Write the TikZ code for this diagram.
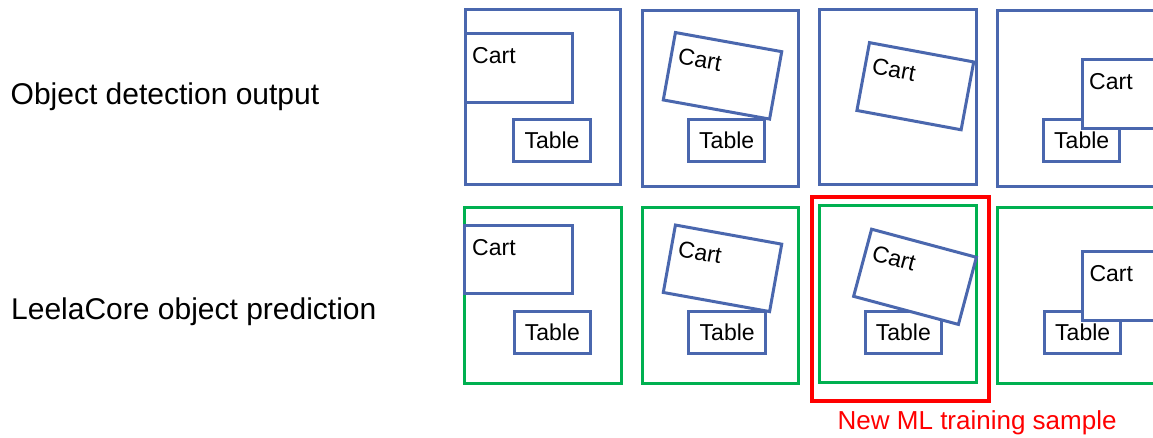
\documentclass[tikz,border=0pt]{standalone}
\usepackage{fontspec}
\setmainfont{Liberation Sans}
\definecolor{boxblue}{HTML}{4A67AE}
\definecolor{predgreen}{HTML}{00B050}
\definecolor{alertred}{HTML}{FF0000}
\newcommand\rowtxt{\fontsize{30}{35}\selectfont}
\newcommand\objtxt{\fontsize{23}{27}\selectfont}
\newcommand\notetxt{\fontsize{26}{31}\selectfont}
\tikzset{
  panelbox/.style={draw=#1, line width=3pt, inner sep=0pt, outer sep=0pt,
    minimum width=156, minimum height=176},
  objbox/.style={draw=boxblue, fill=white, line width=3pt, inner sep=0pt, outer sep=0pt},
  cartbox/.style={objbox, minimum width=108, minimum height=68.5},
  tablebox/.style={objbox, minimum width=76.5, minimum height=42, font=\objtxt},
  objlabel/.style={font=\objtxt, inner sep=0pt, anchor=base west},
  rowlabel/.style={font=\rowtxt, inner sep=0pt, anchor=base west},
}
\begin{document}
\begin{tikzpicture}[x=1pt,y=-1pt]
\clip (0,0) rectangle (1153,437);
\fill[white] (0,0) rectangle (1153,437);

% row captions
\node[rowlabel] (capdet) at (10.5,104) {Object detection output};
\node[rowlabel] (cappred) at (11,319.3) {LeelaCore object prediction};

% ---------- top row: detector frames ----------
\node[panelbox=boxblue, minimum width=155, minimum height=175] (d1) at (542.5,96.5) {};
\node[panelbox=boxblue] (d2) at (720,98) {};
\node[panelbox=boxblue, minimum width=157, minimum height=175] (d3) at (897.5,96.5) {};
\node[panelbox=boxblue, minimum width=160] (d4) at (1077,98) {};

% frame 1
\node[cartbox, minimum width=107, minimum height=69] (dc1) at (518.5,67.5) {};
\node[objlabel] (dc1t) at (472,63) {Cart};
\node[tablebox] (dt1) at (552,140.5) {Table};

% frame 2
\node[tablebox] (dt2) at (726.7,140.5) {Table};
\begin{scope}[shift={(722.5,75.8)}, rotate=-10.2, transform shape]
  \node[cartbox] (dc2) at (0,0) {};
  \node[objlabel] (dc2t) at (-47,-4) {Cart};
\end{scope}

% frame 3
\begin{scope}[shift={(915.3,86.2)}, rotate=-10.5, transform shape]
  \node[cartbox, minimum width=106, minimum height=69] (dc3) at (0,0) {};
  \node[objlabel] (dc3t) at (-46,-4.5) {Cart};
\end{scope}

% frame 4
\node[tablebox] (dt4) at (1081.7,140.5) {Table};
\node[cartbox, minimum height=68.5] (dc4) at (1136,94.2) {};
\node[objlabel] (dc4t) at (1089,89.3) {Cart};

% ---------- bottom row: predicted frames ----------
\node[panelbox=predgreen, minimum width=156.5] (p1) at (542.75,295.5) {};
\node[panelbox=predgreen] (p2) at (720.3,295.5) {};
\node[panelbox=predgreen, minimum width=156.7, minimum height=177] (p3) at (898.3,293.7) {};
\node[panelbox=predgreen, minimum width=160] (p4) at (1077.3,295) {};

% frame 1
\node[cartbox, minimum width=107.7, minimum height=68.3] (pc1) at (518.8,259.8) {};
\node[objlabel] (pc1t) at (472,255.5) {Cart};
\node[tablebox] (pt1) at (552.3,332.5) {Table};

% frame 2
\node[tablebox] (pt2) at (727.2,332.5) {Table};
\begin{scope}[shift={(722.5,268.3)}, rotate=-10.2, transform shape]
  \node[cartbox] (pc2) at (0,0) {};
  \node[objlabel] (pc2t) at (-47,-4) {Cart};
\end{scope}

% frame 3
\node[tablebox] (pt3) at (903.3,332.5) {Table};
\begin{scope}[shift={(915,276.8)}, rotate=-15, transform shape]
  \node[cartbox, minimum width=108.5, minimum height=69.5] (pc3) at (0,0) {};
  \node[objlabel] (pc3t) at (-47,-4.5) {Cart};
\end{scope}

% frame 4
\node[tablebox] (pt4) at (1082.7,332.5) {Table};
\node[cartbox, minimum height=69] (pc4) at (1136,286.2) {};
\node[objlabel] (pc4t) at (1089.3,281) {Cart};

% highlighted sample
\node[draw=alertred, line width=4pt, inner sep=0pt, outer sep=0pt,
      minimum width=177.3, minimum height=203.4] (sample) at (900.3,299) {};
\node[font=\notetxt, text=alertred, inner sep=0pt, anchor=base west] (samplecap)
  at (837.5,429.3) {New ML training sample};
\end{tikzpicture}
\end{document}
